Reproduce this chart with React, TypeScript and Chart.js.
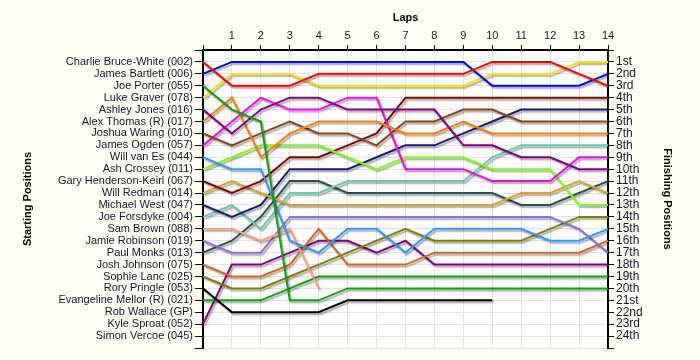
import React, { useEffect, useRef } from 'react';
import { Chart, registerables } from 'chart.js';

Chart.register(...registerables);

// ---- Data ----
const lapNumbers = [0, 1, 2, 3, 4, 5, 6, 7, 8, 9, 10, 11, 12, 13, 14];

const driverNames = [
  'Charlie Bruce-White (002)',
  'James Bartlett (006)',
  'Joe Porter (055)',
  'Luke Graver (078)',
  'Ashley Jones (016)',
  'Alex Thomas (R) (017)',
  'Joshua Waring (010)',
  'James Ogden (057)',
  'Will van Es (044)',
  'Ash Crossey (011)',
  'Gary Henderson-Keirl (067)',
  'Will Redman (014)',
  'Michael West (047)',
  'Joe Forsdyke (004)',
  'Sam Brown (088)',
  'Jamie Robinson (019)',
  'Paul Monks (013)',
  'Josh Johnson (075)',
  'Sophie Lanc (025)',
  'Rory Pringle (053)',
  'Evangeline Mellor (R) (021)',
  'Rob Wallace (GP)',
  'Kyle Sproat (052)',
  'Simon Vercoe (045)',
];

const finishLabels = [
  '1st', '2nd', '3rd', '4th', '5th', '6th', '7th', '8th', '9th', '10th', '11th', '12th',
  '13th', '14th', '15th', '16th', '17th', '18th', '19th', '20th', '21st', '22nd', '23rd', '24th',
];

// positions per lap (index = lap 0..14)
const charlieBruceWhite = [1, 3, 3, 3, 2, 2, 2, 2, 2, 2, 1, 1, 1, 2, 3];
const jamesBartlett = [2, 1, 1, 1, 1, 1, 1, 1, 1, 1, 3, 3, 3, 3, 2];
const joePorter = [3, 5, 6, 21, 21, 20, 20, 20, 20, 20, 20, 20, 20, 20, 20];
const lukeGraver = [4, 2, 2, 2, 3, 3, 3, 3, 3, 3, 2, 2, 2, 1, 1];
const ashleyJones = [5, 7, 5, 4, 4, 5, 5, 5, 5, 8, 8, 9, 9, 10, 10];
const alexThomas = [6, 4, 9, 7, 6, 6, 6, 7, 7, 6, 7, 7, 7, 7, 7];
const joshuaWaring = [7, 8, 7, 6, 7, 7, 8, 6, 6, 5, 5, 6, 6, 6, 6];
const jamesOgden = [8, 6, 4, 5, 5, 4, 4, 10, 10, 10, 11, 11, 11, 9, 9];
const willVanEs = [9, 10, 10, 16, 17, 15, 15, 17, 15, 15, 15, 15, 16, 16, 15];
const ashCrossey = [10, 9, 8, 8, 8, 9, 10, 9, 9, 9, 10, 10, 10, 13, 13];
const garyHendersonKeirl = [11, 12, 11, 9, 9, 8, 7, 4, 4, 4, 4, 4, 4, 4, 4];
const willRedman = [12, 11, 12, 13, 13, 13, 13, 13, 13, 13, 13, 12, 12, 11, 12];
const michaelWest = [13, 14, 13, 10, 10, 10, 9, 8, 8, 7, 6, 5, 5, 5, 5];
const joeForsdyke = [14, 13, 15, 12, 12, 11, 11, 11, 11, 11, 9, 8, 8, 8, 8];
const samBrown = [15, 15, 16, 15, 20];
const jamieRobinson = [16, 17, 17, 14, 14, 14, 14, 14, 14, 14, 14, 14, 14, 15, 17];
const paulMonks = [17, 16, 14, 11, 11, 12, 12, 12, 12, 12, 12, 13, 13, 12, 11];
const joshJohnson = [18, 19, 19, 18, 15, 18, 18, 18, 17, 17, 17, 17, 17, 17, 16];
const sophieLanc = [19, 20, 20, 19, 18, 17, 16, 15, 16, 16, 16, 16, 15, 14, 14];
const roryPringle = [20, 22, 22, 22, 22, 21, 21, 21, 21, 21, 21];
const evangelineMellor = [21, 21, 21, 20, 19, 19, 19, 19, 19, 19, 19, 19, 19, 19, 19];
const robWallace: number[] = [];
const kyleSproat = [23, 18, 18, 17, 16, 16, 17, 16, 18, 18, 18, 18, 18, 18, 18];
const simonVercoe: number[] = [];

const driverSeries = [
  charlieBruceWhite, jamesBartlett, joePorter, lukeGraver, ashleyJones, alexThomas,
  joshuaWaring, jamesOgden, willVanEs, ashCrossey, garyHendersonKeirl, willRedman,
  michaelWest, joeForsdyke, samBrown, jamieRobinson, paulMonks, joshJohnson,
  sophieLanc, roryPringle, evangelineMellor, robWallace, kyleSproat, simonVercoe,
];

const driverColors = [
  '#FF0000', '#0000FF', '#10A010', '#FFE000', '#800080', '#FF8000',
  '#8B4513', '#FF00FF', '#3399FF', '#80FF00', '#800000', '#DAA520',
  '#1A1A6E', '#66CDAA', '#FFA07A', '#9370DB', '#2F4F4F', '#D2691E',
  '#808000', '#000000', '#10A010', '#888888', '#800080', '#888888',
];

const TEXT = '#141430';
const GRID = '#E4E4E4';
const FONT = 'Liberation Sans';

const bgPlugin = {
  id: 'bgPlugin',
  beforeDraw(chart: any) {
    const { ctx, chartArea, width, height } = chart;
    ctx.save();
    ctx.fillStyle = '#FFFFF4';
    ctx.fillRect(0, 0, width, height);
    ctx.fillStyle = '#FFFFFF';
    ctx.fillRect(chartArea.left, chartArea.top, chartArea.right - chartArea.left, chartArea.bottom - chartArea.top);
    ctx.restore();
  },
};

const shadowPlugin = {
  id: 'lineShadow',
  beforeDatasetDraw(chart: any) {
    const c = chart.ctx;
    c.save();
    c.shadowColor = 'rgba(0,0,0,0.35)';
    c.shadowOffsetX = 1.5;
    c.shadowOffsetY = 2;
    c.shadowBlur = 1.5;
  },
  afterDatasetDraw(chart: any) {
    chart.ctx.restore();
  },
};

export default function App() {
  const canvasRef = useRef<HTMLCanvasElement | null>(null);

  useEffect(() => {
    document.body.style.margin = '0';
    const canvas = canvasRef.current;
    if (!canvas) return;

    const datasets = driverSeries.map((arr, i) => ({
      label: driverNames[i],
      data: arr.map((p, lap) => ({ x: lapNumbers[lap], y: p })),
      borderColor: driverColors[i],
      backgroundColor: driverColors[i],
      borderWidth: 2,
      pointRadius: 0,
      tension: 0,
      fill: false,
      yAxisID: 'y',
      xAxisID: 'x',
    }));

    const chart = new Chart(canvas, {
      type: 'line',
      data: { datasets },
      plugins: [bgPlugin, shadowPlugin],
      options: {
        responsive: false,
        animation: false,
        events: [],
        layout: { padding: { left: 0, right: 0, top: 0, bottom: 12 } },
        plugins: { legend: { display: false }, tooltip: { enabled: false } },
        scales: {
          x: {
            type: 'linear',
            position: 'top',
            min: 0,
            max: 14,
            ticks: {
              stepSize: 1,
              autoSkip: false,
              maxRotation: 0,
              padding: 2,
              color: TEXT,
              font: { family: FONT, size: 11 },
              callback: (v: any) => (v === 0 ? '' : String(v)),
            },
            grid: { color: GRID, tickColor: '#000000', tickLength: 5, lineWidth: 1 },
            border: { color: '#000000', width: 2 },
            title: {
              display: true,
              text: 'Laps',
              color: '#000000',
              font: { family: FONT, size: 11, weight: 'bold' },
              padding: { top: 11, bottom: 0 },
            },
            afterFit: (s: any) => { s.height = 50; },
          },
          y: {
            type: 'linear',
            position: 'left',
            min: 0,
            max: 25,
            reverse: true,
            ticks: {
              stepSize: 1,
              autoSkip: false,
              padding: 2,
              color: TEXT,
              font: { family: FONT, size: 11 },
              callback: (v: any) => (v >= 1 && v <= 24 ? driverNames[v - 1] : ''),
            },
            grid: { color: GRID, tickColor: '#000000', tickLength: 8, lineWidth: 1 },
            border: { color: '#000000', width: 2 },
            title: {
              display: true,
              text: 'Starting Positions',
              color: '#000000',
              font: { family: FONT, size: 11, weight: 'bold' },
              padding: { top: 21, bottom: 0 },
            },
            afterFit: (s: any) => { s.width = 203; },
          },
          y2: {
            type: 'linear',
            position: 'right',
            min: 0,
            max: 25,
            reverse: true,
            ticks: {
              stepSize: 1,
              autoSkip: false,
              padding: 2,
              color: TEXT,
              font: { family: FONT, size: 12 },
              callback: (v: any) => (v >= 1 && v <= 24 ? finishLabels[v - 1] : ''),
            },
            grid: { drawOnChartArea: false, color: GRID, tickColor: '#000000', tickLength: 6 },
            border: { color: '#000000', width: 2 },
            title: {
              display: true,
              text: 'Finishing Positions',
              color: '#000000',
              font: { family: FONT, size: 11, weight: 'bold' },
              padding: { top: 26, bottom: 0 },
            },
            afterFit: (s: any) => { s.width = 92; },
          },
        },
      } as any,
    });

    return () => chart.destroy();
  }, []);

  return (
    <canvas
      ref={canvasRef}
      width={700}
      height={360}
      style={{ position: 'absolute', left: 0, top: 0, width: 700, height: 360 }}
    />
  );
}
